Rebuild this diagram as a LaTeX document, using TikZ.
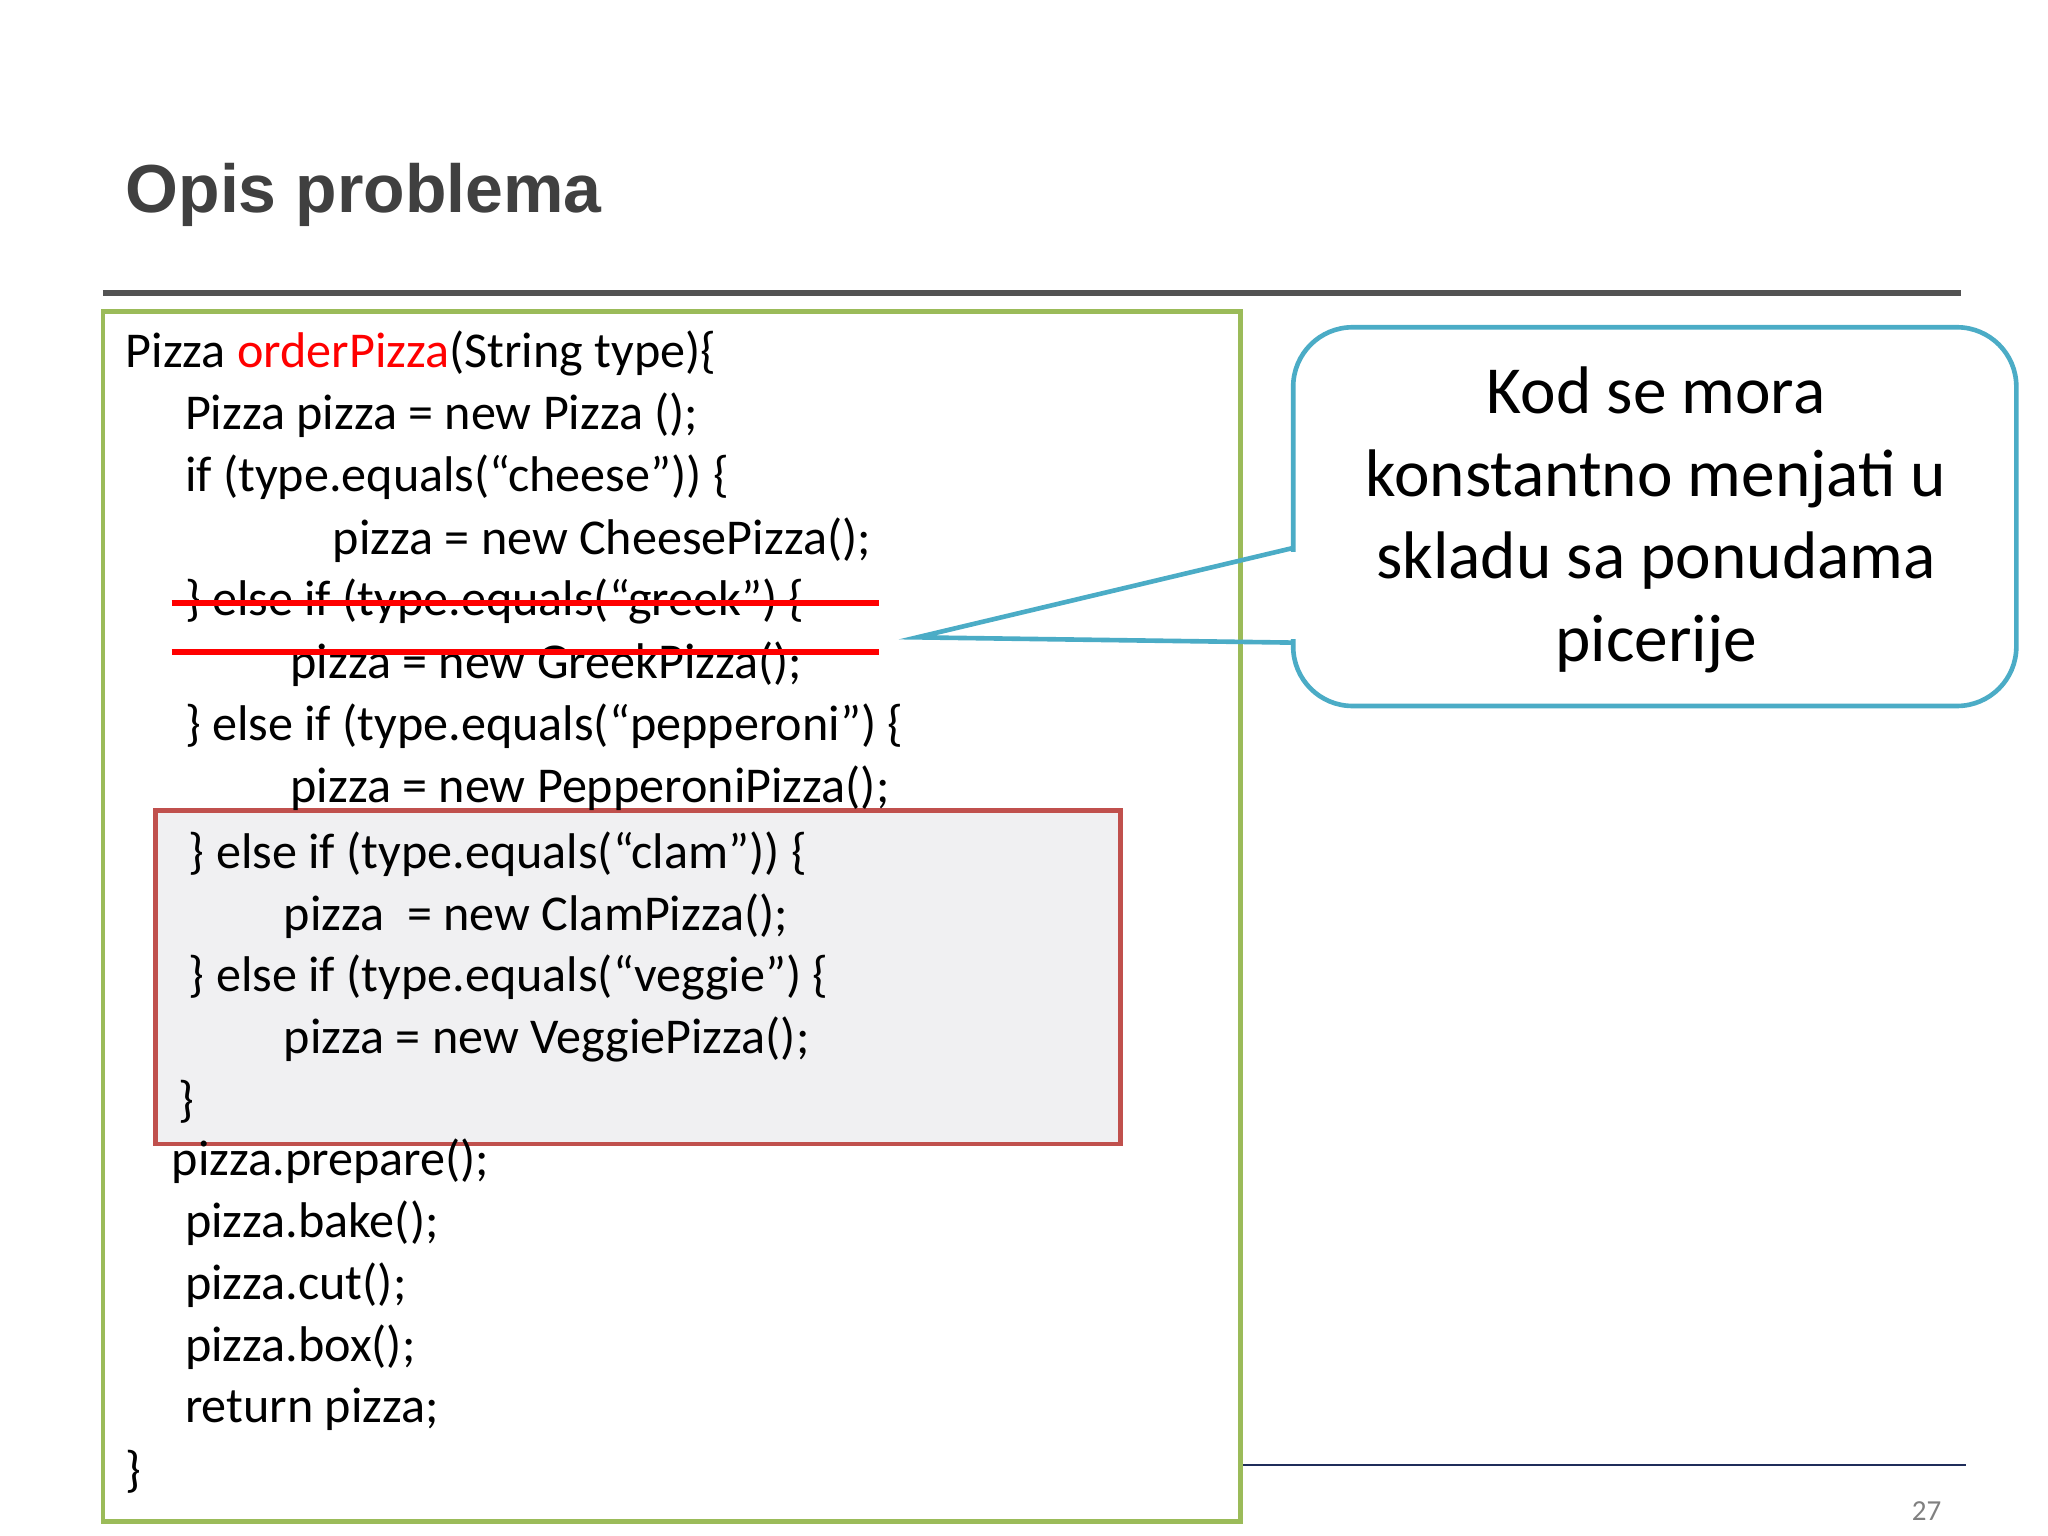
\documentclass[tikz,border=0pt]{standalone}
\usepackage{fontspec}
\setmainfont{Carlito}
\newfontfamily\titlefont{Liberation Sans}
\begin{document}
\begin{tikzpicture}[x=1pt,y=-1pt,
  code/.style={anchor=west,inner sep=0pt,font=\fontsize{38}{42}\selectfont},
  call/.style={align=center,inner sep=0pt,font=\fontsize{51}{62.5}\selectfont}]
\definecolor{grn}{RGB}{155,187,89}
\definecolor{rd}{RGB}{192,80,77}
\definecolor{cy}{RGB}{75,172,198}
\definecolor{tg}{RGB}{64,64,64}
\definecolor{nv}{RGB}{31,45,90}
\useasboundingbox[fill=white] (0,0) rectangle (1552,1164);
\node[anchor=west,inner sep=0pt,text=tg,font=\titlefont\bfseries\fontsize{51.5}{56}\selectfont] (title) at (95,148) {Opis problema};
\draw[line width=5pt,color=tg!90] (78,222) -- (1486,222);
\draw[line width=1.5pt,nv] (940,1110) -- (1490,1110);
\node[text=gray,font=\fontsize{22}{24}\selectfont] (pg) at (1460,1145) {27};
\draw[line width=3.5pt,grn] (78,236) rectangle (940,1153);
\draw[line width=3.5pt,rd,fill={rgb,255:red,240;green,240;blue,242}] (118,614) rectangle (849,867);
\node[code] (l1) at (95,268) {Pizza \textcolor{red}{orderPizza}(String type)\{};
\node[code] (l2) at (140,315) {Pizza pizza = new Pizza ();};
\node[code] (l3) at (140,362) {if (type.equals(“cheese”)) \{};
\node[code] (l4) at (252,409) {pizza = new CheesePizza();};
\node[code] (l5) at (140,456) {\} else if (type.equals(“greek”) \{};
\node[code] (l6) at (220,503) {pizza = new GreekPizza();};
\node[code] (l7) at (140,550) {\} else if (type.equals(“pepperoni”) \{};
\node[code] (l8) at (220,597) {pizza = new PepperoniPizza();};
\node[code] (l9) at (143,647) {\} else if (type.equals(“clam”)) \{};
\node[code] (l10) at (215,694) {pizza \ = new ClamPizza();};
\node[code] (l11) at (143,741) {\} else if (type.equals(“veggie”) \{};
\node[code] (l12) at (215,788) {pizza = new VeggiePizza();};
\node[code] (l13) at (135,835) {\}};
\node[code] (l14) at (130,880) {pizza.prepare();};
\node[code] (l15) at (140,927) {pizza.bake();};
\node[code] (l16) at (140,974) {pizza.cut();};
\node[code] (l17) at (140,1021) {pizza.box();};
\node[code] (l18) at (140,1068) {return pizza;};
\node[code] (l19) at (95,1115) {\}};
\draw[line width=4pt,red] (130,457) -- (666,457);
\draw[line width=4pt,red] (130,494) -- (666,494);
\draw[line width=3.5pt,cy,fill=white,rounded corners=45pt] (980,248) rectangle (1528,535);
\fill[white] (975,418) rectangle (986,484);
\coordinate (tip) at (695,483);
\draw[line width=3.5pt,cy,line join=miter] (981,415) -- (tip) -- (981,487);
\node[call] (callout) at (1255,394) {Kod se mora\\konstantno menjati u\\skladu sa ponudama\\picerije};
\end{tikzpicture}
\end{document}
